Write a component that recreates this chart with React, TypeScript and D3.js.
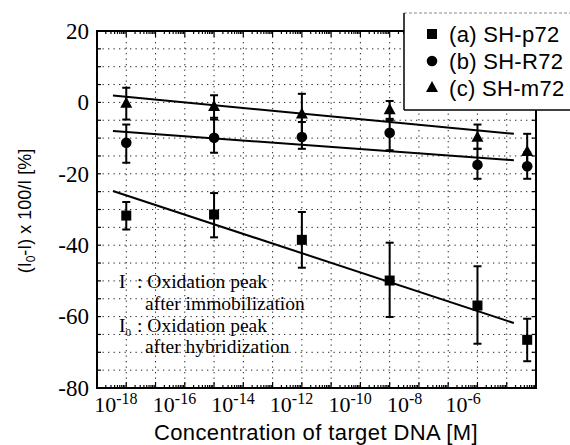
import * as d3 from "d3";

// concentrations of target DNA [M]
const concentrations = [1e-18, 1e-15, 1e-12, 1e-9, 1e-6, 5e-5];

// (a) SH-p72
const seriesA = [-31.7, -31.4, -38.5, -49.9, -56.9, -66.5];
const seriesAHigh = [-27.9, -25.4, -30.7, -39.3, -45.9, -60.6];
const seriesALow = [-35.6, -37.8, -46.3, -60.1, -67.6, -72.5];
// (b) SH-R72
const seriesB = [-11.3, -9.9, -9.7, -8.5, -17.5, -17.9];
const seriesBHigh = [-6.2, -4.3, -5.5, -4.6, -13, -14];
const seriesBLow = [-16.9, -14.1, -13, -13.4, -21.4, -21.4];
// (c) SH-m72
const seriesC = [-0.4, -1.3, -3.4, -2.2, -9.9, -13.9];
const seriesCHigh = [4.1, 2, 2.4, 0.4, -6.2, -8.8];
const seriesCLow = [-4.8, -4.8, -9, -5, -13, -18];

// fitted lines (start / end)
const fitX = [3.5e-19, 1.75e-5];
const fitA = [-24.8, -61.8];
const fitB = [-8.0, -16.2];
const fitC = [1.9, -8.8];

const yTicks = [20, 0, -20, -40, -60, -80];
const xTickExps = [-18, -16, -14, -12, -10, -8, -6];
const legendLabels = ["(a) SH-p72", "(b) SH-R72", "(c) SH-m72"];

const serif = "'Liberation Serif', 'Times New Roman', serif";
const sans = "'Liberation Sans', Arial, sans-serif";

export default function App() {
  const left = 97;
  const right = 536;
  const top = 31;
  const bottom = 388;

  const x = d3.scaleLog().domain([1e-19, 1e-4]).range([left, right]);
  const y = d3.scaleLinear().domain([-80, 20]).range([bottom, top]);

  const decades = d3.range(-18, -4).map((e) => Math.pow(10, e));
  const hGrid = d3.range(-75, 20, 5);
  const minorX: number[] = [];
  d3.range(-19, -4).forEach((e) => {
    for (let m = 2; m <= 9; m++) minorX.push(m * Math.pow(10, e));
  });
  const allDecades = d3.range(-19, -3).map((e) => Math.pow(10, e));
  const yMinor = d3.range(-80, 21, 5);

  const series = [
    { v: seriesA, hi: seriesAHigh, lo: seriesALow, fit: fitA, shape: "square" },
    { v: seriesB, hi: seriesBHigh, lo: seriesBLow, fit: fitB, shape: "circle" },
    { v: seriesC, hi: seriesCHigh, lo: seriesCLow, fit: fitC, shape: "triangle" },
  ];

  const line = d3
    .line<[number, number]>()
    .x((d) => x(d[0]))
    .y((d) => y(d[1]));

  const marker = (shape: string, cx: number, cy: number, key?: string) => {
    if (shape === "square")
      return <rect key={key} x={cx - 5} y={cy - 5} width={10} height={10} fill="#000" />;
    if (shape === "circle") return <circle key={key} cx={cx} cy={cy} r={5.3} fill="#000" />;
    return (
      <path
        key={key}
        d={`M${cx},${cy - 7} L${cx + 6},${cy + 4} L${cx - 6},${cy + 4} Z`}
        fill="#000"
      />
    );
  };

  return (
    <svg
      width={570}
      height={445}
      style={{ position: "absolute", left: 0, top: 0, background: "#fff" }}
    >
      <rect width={570} height={445} fill="#fff" />

      {/* dotted grid */}
      <g stroke="#222" strokeWidth={1} strokeDasharray="1.3 4.2">
        {decades.map((d) => (
          <line key={`vg${d}`} x1={x(d)} x2={x(d)} y1={top} y2={bottom} />
        ))}
        {hGrid.map((v) => (
          <line key={`hg${v}`} x1={left} x2={right} y1={y(v)} y2={y(v)} />
        ))}
      </g>

      {/* ticks */}
      <g stroke="#000" strokeWidth={1.2}>
        {minorX.map((d) => (
          <g key={`mx${d}`}>
            <line x1={x(d)} x2={x(d)} y1={bottom} y2={bottom - 3} />
            <line x1={x(d)} x2={x(d)} y1={top} y2={top + 3} />
          </g>
        ))}
        {allDecades.map((d) => (
          <g key={`Mx${d}`}>
            <line x1={x(d)} x2={x(d)} y1={bottom} y2={bottom - 6} />
            <line x1={x(d)} x2={x(d)} y1={top} y2={top + 6} />
          </g>
        ))}
        {yMinor.map((v) => (
          <g key={`my${v}`}>
            <line x1={left} x2={left + 4} y1={y(v)} y2={y(v)} />
            <line x1={right} x2={right - 4} y1={y(v)} y2={y(v)} />
          </g>
        ))}
      </g>

      {/* frame */}
      <rect
        x={left}
        y={top}
        width={right - left}
        height={bottom - top}
        fill="none"
        stroke="#000"
        strokeWidth={2}
      />

      {/* fitted lines */}
      {series.map((s, i) => (
        <path
          key={`fit${i}`}
          d={line([
            [fitX[0], s.fit[0]],
            [fitX[1], s.fit[1]],
          ]) ?? ""}
          stroke="#000"
          strokeWidth={2}
          fill="none"
        />
      ))}

      {/* error bars + markers */}
      {series.map((s, i) => (
        <g key={`s${i}`}>
          {concentrations.map((c, j) => {
            const cx = x(c);
            return (
              <g key={j} stroke="#000" strokeWidth={2}>
                <line x1={cx} x2={cx} y1={y(s.hi[j])} y2={y(s.lo[j])} />
                <line x1={cx - 4} x2={cx + 4} y1={y(s.hi[j])} y2={y(s.hi[j])} />
                <line x1={cx - 4} x2={cx + 4} y1={y(s.lo[j])} y2={y(s.lo[j])} />
              </g>
            );
          })}
          {concentrations.map((c, j) => marker(s.shape, x(c), y(s.v[j]), `m${i}-${j}`))}
        </g>
      ))}

      {/* annotation */}
      <g fontFamily={serif} fontSize={19.5} fill="#000">
        <text x={119} y={288}>I</text>
        <text x={137} y={288}>: Oxidation peak</text>
        <text x={145} y={310}>after immobilization</text>
        <text x={119} y={332}>
          I<tspan fontSize={11} dy={4}>0</tspan>
        </text>
        <text x={137} y={332}>: Oxidation peak</text>
        <text x={145} y={353}>after hybridization</text>
      </g>

      {/* y tick labels */}
      <g fontFamily={serif} fontSize={23} fill="#000" textAnchor="end">
        {yTicks.map((v) => (
          <text key={`yt${v}`} x={89} y={y(v)} dy="0.34em">
            {v}
          </text>
        ))}
      </g>

      {/* x tick labels */}
      <g fontFamily={serif} fill="#000">
        {xTickExps.map((e) => (
          <text key={`xt${e}`} x={x(Math.pow(10, e)) - 32} y={412} fontSize={22}>
            10
            <tspan fontSize={16} dy={-8}>
              {`-${Math.abs(e)}`}
            </tspan>
          </text>
        ))}
      </g>

      {/* axis titles */}
      <text
        x={316}
        y={440}
        fontFamily={sans}
        fontSize={22}
        letterSpacing={0.4}
        textAnchor="middle"
        fill="#000"
      >
        Concentration of target DNA [M]
      </text>
      <text
        transform="translate(31,211) rotate(-90)"
        fontFamily={sans}
        fontSize={18}
        textAnchor="middle"
        fill="#000"
      >
        (I<tspan fontSize={12} dy={4}>0</tspan>
        <tspan dy={-4}>-I) x 100/I [%]</tspan>
      </text>

      {/* legend */}
      <rect x={404} y={13} width={170} height={97} fill="#fff" />
      <line x1={404} x2={570} y1={13} y2={13} stroke="#888" strokeWidth={1} strokeDasharray="3 2" />
      <line x1={404} x2={404} y1={13} y2={110} stroke="#000" strokeWidth={1.5} />
      <line x1={404} x2={570} y1={110} y2={110} stroke="#000" strokeWidth={1.5} />
      {legendLabels.map((l, i) => {
        const ly = 34 + i * 27;
        return (
          <g key={l}>
            {marker(series[i].shape, 432, ly)}
            <text
              x={449}
              y={ly}
              dy="0.36em"
              fontFamily={sans}
              fontSize={22}
              letterSpacing={0.3}
              fill="#000"
            >
              {l}
            </text>
          </g>
        );
      })}
    </svg>
  );
}
